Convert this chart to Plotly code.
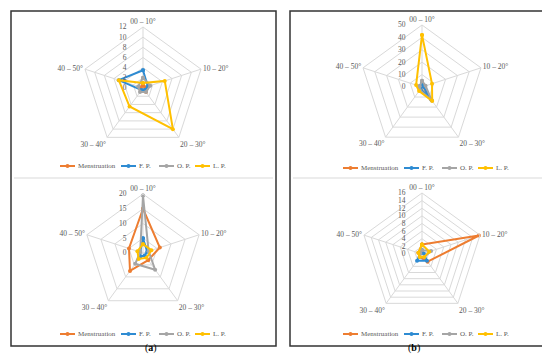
import plotly.graph_objects as go

W, H = 550, 356

categories = ["00 – 10°", "10 – 20°", "20 – 30°", "30 – 40°", "40 – 50°"]
series_names = ["Menstruation", "F. P.", "O. P.", "L. P."]
colors = ["#ED7D31", "#2E8BD2", "#A5A5A5", "#FFC000"]

# top-left (a)
a1_mens = [0.5, 0.5, 1, 0.5, 0.5]
a1_fp = [3.5, 1, 0.5, 0.5, 5]
a1_op = [2, 1.5, 1, 1, 1]
a1_lp = [1, 4.5, 10, 4.5, 5]
# bottom-left (a)
a2_mens = [15, 6, 3, 7.5, 5]
a2_fp = [5, 1.5, 1, 1.5, 1]
a2_op = [19.5, 2, 7, 4.5, 1]
a2_lp = [3, 3, 2, 2.5, 2]
# top-right (b)
b1_mens = [2, 1, 12, 2, 2]
b1_fp = [3, 1, 13, 2, 2]
b1_op = [5, 3, 13.5, 3, 2]
b1_lp = [42, 8.5, 14, 4, 5]
# bottom-right (b)
b2_mens = [2.5, 15.7, 2.5, 1, 1]
b2_fp = [1, 0.5, 2.2, 2.2, 0.5]
b2_op = [1, 2.5, 1, 1, 0.5]
b2_lp = [2.5, 2, 1, 1, 1]

charts = [
    dict(data=[a1_mens, a1_fp, a1_op, a1_lp], rmax=12, dtick=2, c=(135, 80), R=61, leg=(52, 158)),
    dict(data=[a2_mens, a2_fp, a2_op, a2_lp], rmax=20, dtick=5, c=(135, 245), R=59, leg=(52, 326)),
    dict(data=[b1_mens, b1_fp, b1_op, b1_lp], rmax=50, dtick=10, c=(414, 79), R=62, leg=(335, 160)),
    dict(data=[b2_mens, b2_fp, b2_op, b2_lp], rmax=16, dtick=2, c=(414, 246), R=61, leg=(335, 326)),
]
legend_offsets = [0, 61, 99, 135]

FONT = "Liberation Serif"
TXT = "#595959"
GRID = "#D9D9D9"

fig = go.Figure()
layout = dict(width=W, height=H, margin=dict(l=0, r=0, t=0, b=0),
              paper_bgcolor="white", plot_bgcolor="white", showlegend=False,
              font=dict(family=FONT, color=TXT, size=8))

shapes = []
annotations = []

for i, ch in enumerate(charts):
    pid = "polar" if i == 0 else f"polar{i+1}"
    for name, vals, col in zip(series_names, ch["data"], colors):
        fig.add_trace(go.Scatterpolar(
            r=vals + vals[:1], theta=categories + categories[:1],
            mode="lines+markers", name=name,
            line=dict(color=col, width=2), marker=dict(color=col, size=4),
            subplot=pid))
    cx, cy = ch["c"]; R = ch["R"]
    layout[pid] = dict(
        domain=dict(x=[(cx - R) / W, (cx + R) / W], y=[1 - (cy + R) / H, 1 - (cy - R) / H]),
        gridshape="linear", bgcolor="white",
        angularaxis=dict(rotation=90, direction="clockwise", gridcolor=GRID, linecolor=GRID,
                         showline=True, ticks="", tickfont=dict(size=7.5, color=TXT, family=FONT)),
        radialaxis=dict(range=[0, ch["rmax"]], dtick=ch["dtick"], angle=90, tickangle=90,
                        side="counterclockwise", showline=False, ticks="", gridcolor=GRID,
                        ticksuffix="\u2003\u2003",
                        tickfont=dict(size=7.5, color=TXT, family=FONT)),
    )
    # custom legend
    lx, ly = ch["leg"]
    for off, name, col in zip(legend_offsets, series_names, colors):
        x0 = lx + off
        shapes.append(dict(type="line", xref="paper", yref="paper",
                           x0=x0 / W, x1=(x0 + 15) / W, y0=1 - ly / H, y1=1 - ly / H,
                           line=dict(color=col, width=2)))
        shapes.append(dict(type="circle", xref="paper", yref="paper",
                           x0=(x0 + 5.5) / W, x1=(x0 + 9.5) / W,
                           y0=1 - (ly + 2) / H, y1=1 - (ly - 2) / H,
                           fillcolor=col, line=dict(color=col, width=0)))
        annotations.append(dict(x=(x0 + 16) / W, y=1 - ly / H, xref="paper", yref="paper",
                                text=name, showarrow=False, xanchor="left", yanchor="middle",
                                font=dict(size=7, color=TXT, family=FONT)))

fig.update_layout(**layout)

# panel borders and dividers
for x0, x1 in [(3, 268), (282, 548)]:
    shapes.append(dict(type="rect", xref="paper", yref="paper",
                       x0=x0 / W, x1=x1 / W, y0=1 - 338 / H, y1=1 - 3 / H,
                       line=dict(color="#333333", width=1.5)))
    shapes.append(dict(type="line", xref="paper", yref="paper",
                       x0=(x0 + 3) / W, x1=(x1 - 3) / W, y0=1 - 170 / H, y1=1 - 170 / H,
                       line=dict(color=GRID, width=1)))
annotations.append(dict(x=135 / W, y=1 - 348 / H, xref="paper", yref="paper", text="(<b>a</b>)",
                        showarrow=False, font=dict(size=10, color="#000000", family=FONT)))
annotations.append(dict(x=414 / W, y=1 - 348 / H, xref="paper", yref="paper", text="(<b>b</b>)",
                        showarrow=False, font=dict(size=10, color="#000000", family=FONT)))
fig.update_layout(shapes=shapes, annotations=annotations)

fig.write_html("out.html")
